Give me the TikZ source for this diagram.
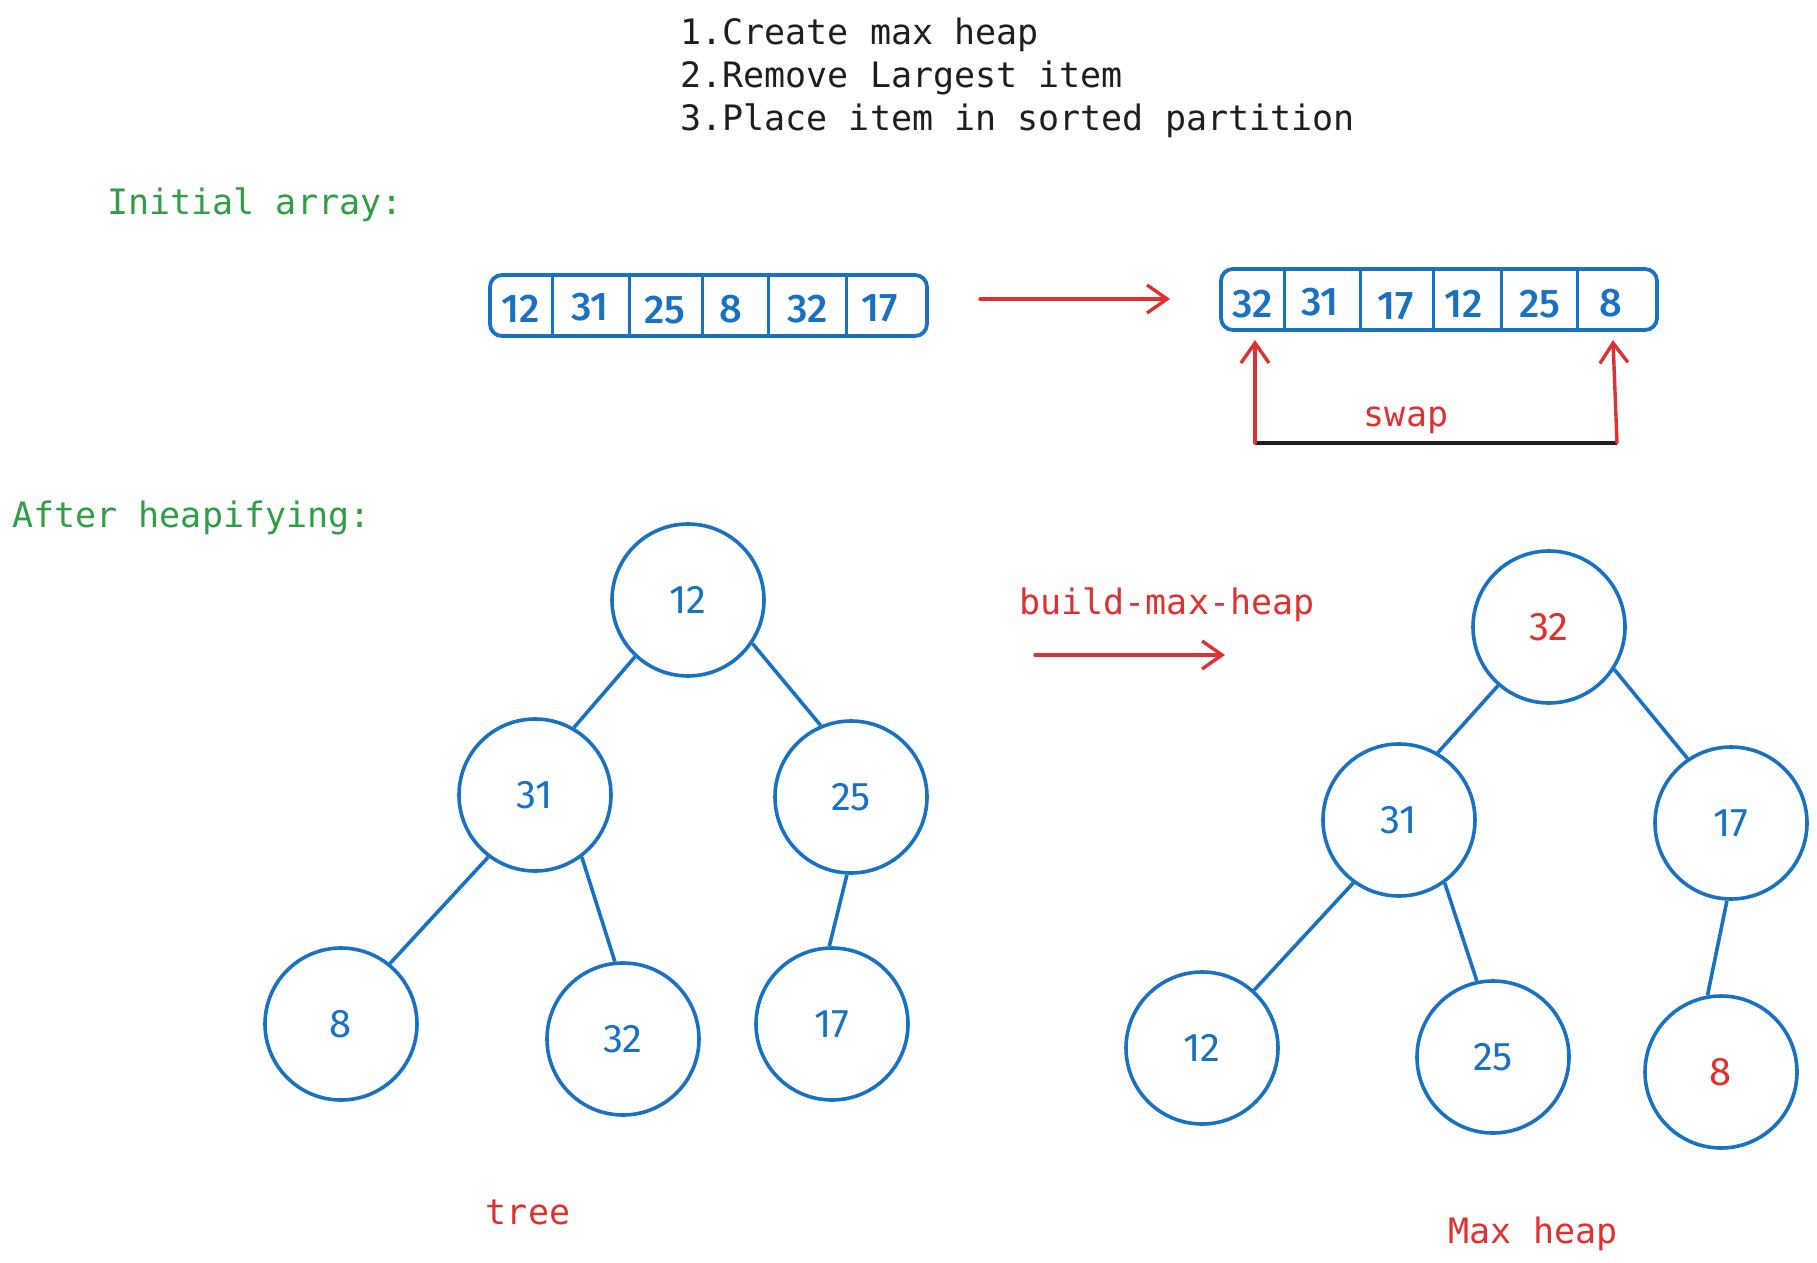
\documentclass[tikz,border=0pt]{standalone}
\usepackage{fontspec}
\setmainfont{Fira Sans}
\newfontfamily\heapmono{DejaVu Sans Mono}
\newfontfamily\cellfont{Fira Sans Medium}
\newfontfamily\keyfont{Fira Sans}
\usetikzlibrary{positioning,arrows.meta}
\definecolor{heapblue}{HTML}{1971C2}
\definecolor{heapred}{HTML}{E03131}
\definecolor{heapgreen}{HTML}{2F9E44}
\definecolor{heapblack}{HTML}{1E1E1E}
\tikzset{
  numtext/.style={font=\cellfont\fontsize{20}{22}\selectfont, text=heapblue, inner sep=0pt},
  arraybox/.style={draw=heapblue, line width=1.9pt, rounded corners=6pt, inner sep=0pt},
  divider/.style={draw=heapblue, line width=1.5pt},
  treenode/.style={circle, draw=heapblue, line width=1.8pt, minimum size=76pt, inner sep=0pt,
    font=\keyfont\fontsize{20}{22}\selectfont, text=heapblue},
  treeedge/.style={draw=heapblue, line width=1.8pt},
  monotext/.style={font=\heapmono\fontsize{17.5}{21}\selectfont, inner sep=0pt},
  redarrow/.style={draw=heapred, line width=1.7pt, line cap=round,
    -{Straight Barb[length=10pt,width=14pt]}},
}
\begin{document}
\begin{tikzpicture}[x=0.5pt,y=-0.5pt]
  \useasboundingbox (0,0) rectangle (1817,1263);

  % steps
  \node[monotext, text=heapblack, anchor=base west] (step1) at (680,45) {1.Create max heap};
  \node[monotext, text=heapblack, anchor=base west] (step2) at (680,88) {2.Remove Largest item};
  \node[monotext, text=heapblack, anchor=base west] (step3) at (680,131) {3.Place item in sorted partition};

  \node[monotext, text=heapgreen, anchor=base west] (initlbl) at (107,214) {Initial array:};
  \node[monotext, text=heapgreen, anchor=base west] (heaplbl) at (12,527) {After heapifying:};

  % initial array
  \node[arraybox, minimum width=218.5pt, minimum height=30.5pt] (arrA) at (708.5,305.5) {};
  \foreach \x in {552,629,702,768,846}
    \draw[divider] (\x,275) -- (\x,336);
  \node[numtext] (a1) at (521,309) {12};
  \node[numtext] (a2) at (590,307) {31};
  \node[numtext] (a3) at (665,310) {25};
  \node[numtext] (a4) at (731,309) {8};
  \node[numtext] (a5) at (808,309) {32};
  \node[numtext] (a6) at (880,308) {17};

  \coordinate (arrowAs) at (980,299);
  \coordinate (arrowAe) at (1170,299);
  \draw[redarrow] (arrowAs) -- (arrowAe);

  % heap array
  \node[arraybox, minimum width=218pt, minimum height=30.5pt] (arrB) at (1439,299.5) {};
  \foreach \x in {1284,1360,1433,1501,1577}
    \draw[divider] (\x,269) -- (\x,330);
  \node[numtext] (b1) at (1253,304) {32};
  \node[numtext] (b2) at (1320,302) {31};
  \node[numtext] (b3) at (1396,306) {17};
  \node[numtext] (b4) at (1464,304) {12};
  \node[numtext] (b5) at (1540,304) {25};
  \node[numtext] (b6) at (1611,303) {8};

  % swap
  \coordinate (swapL) at (1255,443);
  \coordinate (swapR) at (1617,443);
  \coordinate (tipL) at (1255,340);
  \coordinate (tipR) at (1613,340);
  \draw[heapblack, line width=1.7pt] (swapL) -- (swapR);
  \draw[redarrow] (swapL) -- (tipL);
  \draw[redarrow] (swapR) -- (tipR);
  \node[monotext, text=heapred, anchor=base] (swaplbl) at (1406,426) {swap};

  % tree
  \node[treenode] (t12) at (688,600) {12};
  \node[treenode] (t31) at (535,795) {31};
  \node[treenode] (t25) at (851,797) {25};
  \node[treenode] (t8) at (341,1024) {8};
  \node[treenode] (t32) at (623,1039) {32};
  \node[treenode] (t17) at (832,1024) {17};
  \draw[treeedge] (t12.-133) -- (t31.60);
  \draw[treeedge] (t12.-34) -- (t25.113);
  \draw[treeedge] (t31.-127) -- (t8.51);
  \draw[treeedge] (t31.-53) -- (t32.96);
  \draw[treeedge] (t25.-93) -- (t17.92);
  \node[monotext, text=heapred, anchor=base] (treelbl) at (528,1224) {tree};

  % build-max-heap
  \node[monotext, text=heapred, anchor=base] (buildlbl) at (1167,614) {build-max-heap};
  \coordinate (arrowBs) at (1035,655);
  \coordinate (arrowBe) at (1225,655);
  \draw[redarrow] (arrowBs) -- (arrowBe);

  % max heap
  \node[treenode, text=heapred] (h32) at (1549,627) {32};
  \node[treenode] (h31) at (1399,820) {31};
  \node[treenode] (h17) at (1731,823) {17};
  \node[treenode] (h12) at (1202,1048) {12};
  \node[treenode] (h25) at (1493,1057) {25};
  \node[treenode, text=heapred] (h8) at (1721,1072) {8};
  \draw[treeedge] (h32.-131) -- (h31.60);
  \draw[treeedge] (h32.-33) -- (h17.124);
  \draw[treeedge] (h31.-126) -- (h12.48);
  \draw[treeedge] (h31.-54) -- (h25.102);
  \draw[treeedge] (h17.-93) -- (h8.100);
  \node[monotext, text=heapred, anchor=base] (maxlbl) at (1533,1243) {Max heap};
\end{tikzpicture}
\end{document}
